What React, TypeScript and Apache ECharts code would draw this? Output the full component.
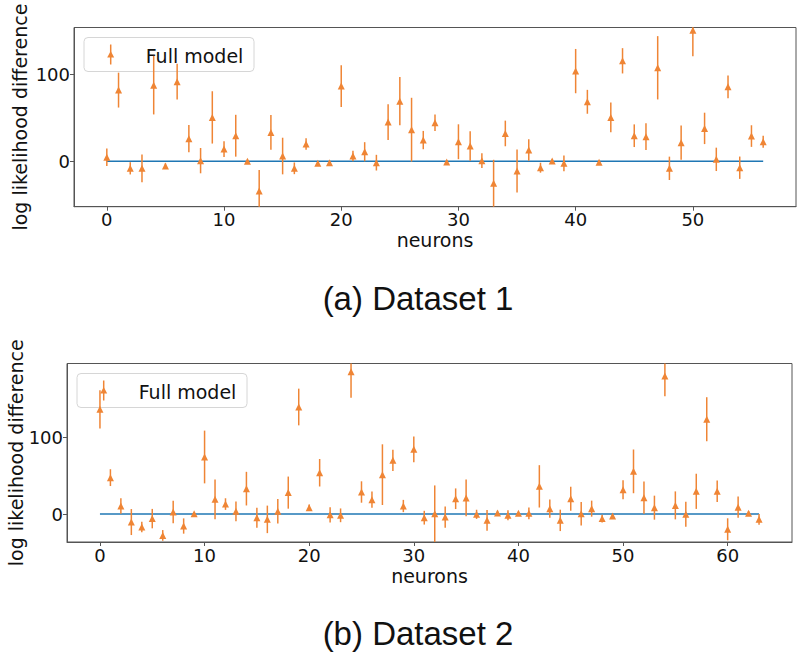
import React, { useEffect, useRef } from "react";
import * as echarts from "echarts";

const vals1 = [4.6, 81.7, -8, -8, 87.4, -5.3, 91.3, 26, 0.8, 50.4, 14.1, 29.4, 0, -34, 33.2, 6.1, -8, 19.9, -2.3, -1.5, 86.3, 6.1, 11, -1.5, 45, 69, 36.3, 24.4, 44.3, -0.8, 22.5, 17.6, 0.8, -25.2, 32, -11, 13, -7.3, 0.4, -2.3, 103.5, 68.3, -1.1, 50.4, 115.3, 29.4, 28.3, 107.3, -8, 21.4, 150.4, 37.8, 2.3, 85.5, -7.3, 29, 22.5];
const errs1 = [10, 20, 7, 16, 33.6, 3, 20.5, 15.6, 14.5, 30, 9, 24, 2, 24, 20, 21, 6.7, 6.5, 2, 2, 24, 6, 11, 9, 20.6, 27.7, 36.6, 10.5, 9.5, 2, 20, 17, 8.5, 27, 14.7, 24.6, 12.4, 5.7, 2, 9, 25.4, 13.7, 2, 17, 14.5, 13, 15.3, 36.3, 13.4, 19.7, 30, 18, 13.4, 13, 12.8, 12.4, 6.9];
const vals2 = [137, 47.6, 10.5, -10.5, -17, -6, -28, 2.6, -15.7, 0.4, 74.6, 19.2, 13, 3.5, 33.2, -4.8, -7, 3.5, 28, 140, 8.3, 54, -1, -1.7, 186, 28.8, 18.8, 51.5, 70.2, 10.5, 84.6, -4.8, 0.4, -4, 20, 21, -0.4, -8.3, 1.3, -1.7, 0.9, 0.9, 36.2, 7, -8.3, 20, 0.4, 7, -6, -2.6, 31.8, 55.8, 21.4, 8.3, 180.6, 11.3, -0.4, 29.7, 124, 29.7, -20, 9, 0.9, -7];
const errs2 = [25, 11, 10, 17, 7, 12.7, 7, 14.6, 10, 2, 34.5, 26, 7.6, 13, 22, 13, 18, 16, 21, 24, 4, 18, 10, 9, 34, 14, 10.6, 39.7, 14, 8, 16.8, 9, 37, 14, 13.5, 24, 6, 13.5, 3, 6.5, 2, 7.6, 27.7, 12, 14, 15.7, 15.3, 10.5, 5, 2, 12.4, 28.6, 21, 15.7, 26.6, 18.3, 16.4, 23, 28.8, 14, 14.4, 14, 3, 7];
const xTicks1 = [0, 10, 20, 30, 40, 50];
const xTicks2 = [0, 10, 20, 30, 40, 50, 60];
const yTicks = [0, 100];
const seriesName = "Full model";
const titles = ["(a) Dataset 1", "(b) Dataset 2"];
const xName = "neurons";
const yName = "log likelihood difference";

const ORANGE = "#ef8535";
const BLUE = "#1f77b4";
const FRAME = "#555555";
const FONT = "DejaVu Sans";

export default function App() {
  const ref = useRef<HTMLDivElement>(null);
  useEffect(() => {
    if (!ref.current) return;
    const chart = echarts.init(ref.current, null, { renderer: "svg" });

    const grids = [
      { left: 74, top: 27.5, width: 722, height: 179.2 },
      { left: 67, top: 363.5, width: 725, height: 178.5 },
    ];
    const xRanges = [
      [-2.8, 58.8],
      [-3.15, 66.15],
    ];
    const yRanges = [
      [-52, 153.5],
      [-36.6, 196.9],
    ];
    const yLabelX = [20, 16];
    const xt = [xTicks1, xTicks2];
    const valsArr = [vals1, vals2];
    const errsArr = [errs1, errs2];

    const xAxis: any[] = [];
    const yAxis: any[] = [];
    const series: any[] = [];
    const graphic: any[] = [];

    grids.forEach((g, k) => {
      xAxis.push({
        type: "value",
        gridIndex: k,
        min: xRanges[k][0],
        max: xRanges[k][1],
        splitLine: { show: false },
        axisLine: { show: true, onZero: false, lineStyle: { color: FRAME, width: 1 } },
        axisTick: { show: true, length: 4, customValues: xt[k], lineStyle: { color: FRAME, width: 1 } },
        axisLabel: { customValues: xt[k], fontSize: 18, color: "#111", margin: 4, fontFamily: FONT },
        name: xName,
        nameLocation: "middle",
        nameGap: 24,
        nameTextStyle: { fontSize: 19, color: "#111", fontFamily: FONT },
      });
      yAxis.push({
        type: "value",
        gridIndex: k,
        min: yRanges[k][0],
        max: yRanges[k][1],
        splitLine: { show: false },
        axisLine: { show: true, onZero: false, lineStyle: { color: FRAME, width: 1 } },
        axisTick: { show: true, length: 4, customValues: yTicks, lineStyle: { color: FRAME, width: 1 } },
        axisLabel: { customValues: yTicks, fontSize: 18, color: "#111", margin: 4, fontFamily: FONT },
      });
      graphic.push({
        type: "text",
        x: yLabelX[k],
        y: g.top + g.height / 2,
        rotation: Math.PI / 2,
        style: { text: yName, fontSize: 19, fontFamily: FONT, fill: "#111", align: "center", verticalAlign: "middle" },
      });
      const vals = valsArr[k];
      const errs = errsArr[k];
      series.push({
        type: "line",
        xAxisIndex: k,
        yAxisIndex: k,
        data: [
          [0, 0],
          [vals.length - 1, 0],
        ],
        symbol: "none",
        lineStyle: { color: BLUE, width: 1.5 },
        z: 1,
      });
      series.push({
        type: "custom",
        name: seriesName,
        xAxisIndex: k,
        yAxisIndex: k,
        data: vals.map((v, i) => [i, v, errs[i]]),
        renderItem: (params: any, api: any) => {
          const x = api.value(0);
          const y = api.value(1);
          const e = api.value(2);
          const p1 = api.coord([x, y + e]);
          const p2 = api.coord([x, y - e]);
          const cs = params.coordSys;
          const clamp = (v: number) => Math.max(cs.y, Math.min(cs.y + cs.height, v));
          return {
            type: "line",
            shape: { x1: p1[0], y1: clamp(p1[1]), x2: p2[0], y2: clamp(p2[1]) },
            style: { stroke: ORANGE, lineWidth: 1.5 },
          };
        },
        z: 2,
      });
      series.push({
        type: "scatter",
        name: seriesName,
        xAxisIndex: k,
        yAxisIndex: k,
        data: vals.map((v, i) => [i, v]),
        symbol: "triangle",
        symbolSize: 7,
        itemStyle: { color: ORANGE, opacity: 1 },
        clip: true,
        z: 3,
      });
    });

    // legends
    const legendBoxes = [
      { x: 84, y: 37.5, w: 170, h: 34, hx: 110.7, tx: 145.7 },
      { x: 77, y: 373.5, w: 170, h: 34, hx: 103.7, tx: 138.7 },
    ];
    legendBoxes.forEach((b) => {
      const cy = b.y + b.h / 2;
      graphic.push({
        type: "group",
        z: 100,
        children: [
          {
            type: "rect",
            shape: { x: b.x, y: b.y, width: b.w, height: b.h, r: 4 },
            style: { fill: "rgba(255,255,255,0.8)", stroke: "#d6d6d6", lineWidth: 1 },
          },
          {
            type: "line",
            shape: { x1: b.hx, y1: cy - 10, x2: b.hx, y2: cy + 10 },
            style: { stroke: ORANGE, lineWidth: 1.5 },
          },
          {
            type: "polygon",
            shape: { points: [[b.hx - 3.5, cy + 3], [b.hx, cy - 3.5], [b.hx + 3.5, cy + 3]] },
            style: { fill: ORANGE },
          },
          {
            type: "text",
            x: b.tx,
            y: cy + 1,
            style: { text: seriesName, fontSize: 19, fontFamily: FONT, fill: "#111", verticalAlign: "middle", align: "left" },
          },
        ],
      });
    });

    graphic.push({
      type: "text",
      x: 418,
      y: 298,
      style: { text: titles[0], fontSize: 33, fontFamily: "Liberation Sans", fill: "#111", align: "center", verticalAlign: "middle" },
    });
    graphic.push({
      type: "text",
      x: 418,
      y: 633,
      style: { text: titles[1], fontSize: 33, fontFamily: "Liberation Sans", fill: "#111", align: "center", verticalAlign: "middle" },
    });

    chart.setOption({
      animation: false,
      backgroundColor: "#ffffff",
      grid: grids.map((g) => ({ ...g, show: true, borderColor: FRAME, borderWidth: 1, backgroundColor: "transparent", outerBoundsMode: "none", containLabel: false })),
      xAxis,
      yAxis,
      series,
      graphic,
    });
    return () => chart.dispose();
  }, []);
  return <div ref={ref} style={{ position: "fixed", left: 0, top: 0, width: 799, height: 657 }} />;
}
